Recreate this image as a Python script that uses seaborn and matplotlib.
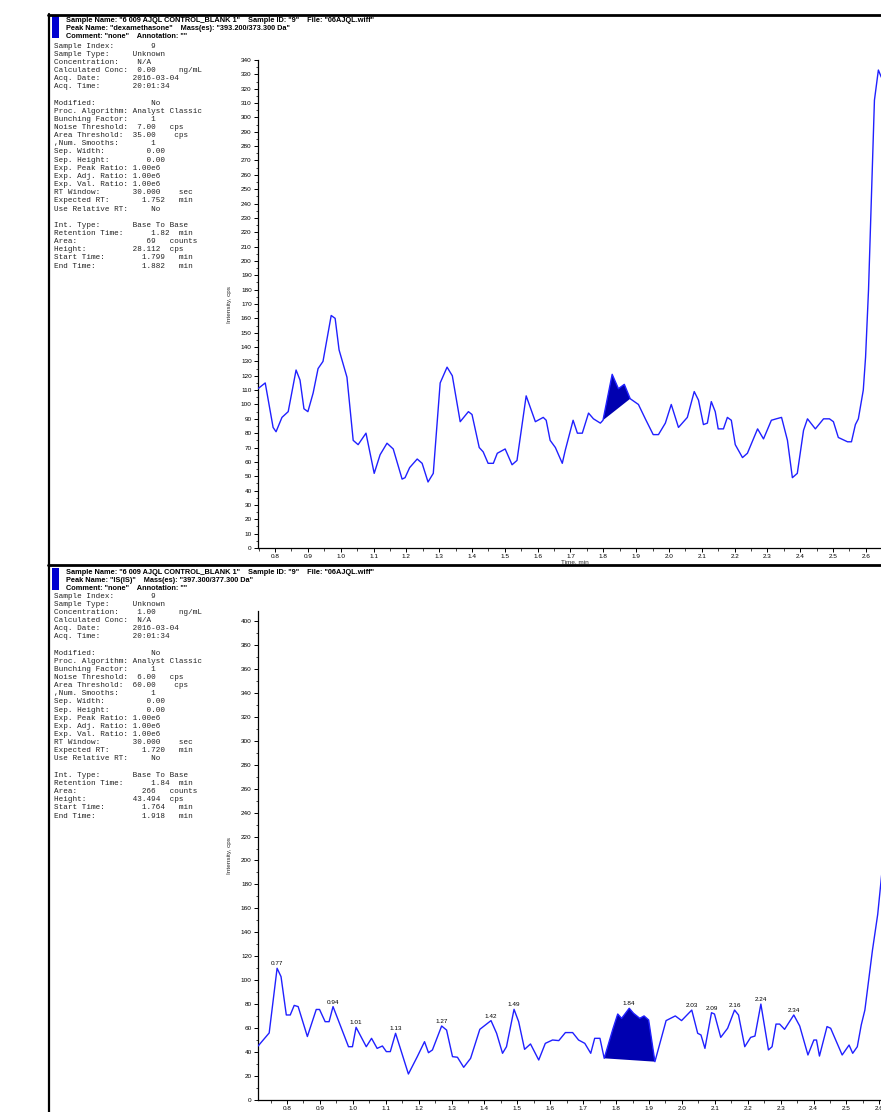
import numpy as np
import matplotlib
matplotlib.use("Agg")
import matplotlib.pyplot as plt
import seaborn as sns
from matplotlib.lines import Line2D
from matplotlib.patches import Rectangle
from matplotlib.ticker import MultipleLocator, FormatStrFormatter

# ---------------- data: top panel (dexamethasone) ----------------
top_time = [0.748, 0.770, 0.794, 0.803, 0.821, 0.840, 0.864, 0.876, 0.888, 0.900,
            0.916, 0.931, 0.946, 0.971, 0.983, 0.995, 1.019, 1.038, 1.053, 1.077,
            1.102, 1.120, 1.141, 1.160, 1.187, 1.196, 1.210, 1.233, 1.248, 1.266,
            1.282, 1.303, 1.324, 1.340, 1.364, 1.389, 1.400, 1.422, 1.434, 1.449,
            1.465, 1.477, 1.501, 1.522, 1.537, 1.565, 1.593, 1.617, 1.626, 1.638,
            1.654, 1.675, 1.684, 1.708, 1.721, 1.736, 1.755, 1.770, 1.791, 1.799,
            1.827, 1.846, 1.864, 1.882, 1.907, 1.928, 1.952, 1.968, 1.989, 2.007,
            2.029, 2.056, 2.077, 2.090, 2.105, 2.117, 2.129, 2.141, 2.150, 2.166,
            2.178, 2.190, 2.202, 2.224, 2.239, 2.270, 2.288, 2.312, 2.327, 2.343,
            2.361, 2.376, 2.391, 2.410, 2.422, 2.446, 2.471, 2.489, 2.501, 2.516,
            2.544, 2.556, 2.568, 2.577, 2.592, 2.599, 2.608, 2.626, 2.638, 2.647]
top_intensity = [111, 115, 84, 81, 91, 95, 124, 117, 97, 95,
                 108, 125, 130, 162, 160, 138, 119, 75, 72, 80,
                 52, 65, 73, 69, 48, 49, 56, 62, 59, 46,
                 52, 115, 126, 120, 88, 95, 93, 70, 67, 59,
                 59, 66, 69, 58, 61, 106, 88, 91, 89, 75,
                 70, 59, 68, 89, 80, 80, 94, 90, 87, 89,
                 121, 111, 114, 104, 100, 90, 79, 79, 87, 100,
                 84, 91, 109, 103, 86, 87, 102, 95, 83, 83,
                 91, 89, 72, 63, 66, 83, 76, 89, 90, 91,
                 75, 49, 52, 82, 90, 83, 90, 90, 88, 77,
                 74, 74, 86, 90, 110, 133, 180, 312, 333, 328]
top_peak_start, top_peak_end = 1.799, 1.882

# ---------------- data: bottom panel (IS) ----------------
bot_time = [0.712, 0.746, 0.770, 0.782, 0.798, 0.810, 0.822, 0.834, 0.862, 0.889,
            0.899, 0.916, 0.928, 0.940, 0.987, 0.999, 1.010, 1.041, 1.057, 1.074,
            1.090, 1.102, 1.114, 1.130, 1.169, 1.196, 1.218, 1.230, 1.242, 1.270,
            1.285, 1.303, 1.318, 1.337, 1.358, 1.386, 1.420, 1.437, 1.455, 1.467,
            1.490, 1.504, 1.522, 1.540, 1.565, 1.585, 1.607, 1.626, 1.646, 1.668,
            1.686, 1.705, 1.723, 1.735, 1.751, 1.764, 1.790, 1.805, 1.817, 1.840,
            1.853, 1.872, 1.885, 1.899, 1.918, 1.952, 1.980, 1.999, 2.030, 2.048,
            2.058, 2.070, 2.090, 2.099, 2.118, 2.139, 2.160, 2.172, 2.191, 2.209,
            2.222, 2.240, 2.263, 2.274, 2.286, 2.297, 2.312, 2.340, 2.358, 2.383,
            2.401, 2.409, 2.418, 2.441, 2.452, 2.487, 2.508, 2.519, 2.533, 2.545,
            2.556, 2.579, 2.595, 2.607]
bot_intensity = [45, 56, 110, 103, 71, 71, 79, 78, 53, 75.6,
                 75.6, 65.4, 65.4, 78, 44.5, 44.5, 60.7, 44.5, 51.5, 43.1,
                 45.1, 40.4, 40.4, 55.7, 21.7, 36.2, 48.7, 39.5, 41.8, 61.8,
                 58.4, 36.2, 35.7, 27.3, 34.8, 59, 66.3, 55.7, 39, 44.5,
                 75.7, 65.4, 42.3, 46.8, 33.4, 47.3, 50.1, 49.6, 56.3, 56.3,
                 50.1, 47.3, 39, 51.5, 51.5, 34.8, 59, 71.8, 68.2, 76.6,
                 72.4, 68.2, 70.2, 66.8, 32, 66.3, 70.2, 66.3, 75.1, 55.7,
                 54.3, 43.1, 72.9, 71.8, 52.3, 59.9, 75.1, 71, 44.5, 52.3,
                 53.4, 80.1, 41.8, 44.5, 63.4, 63.4, 59, 71, 61.8, 37.6,
                 50.1, 50.1, 36.7, 61.3, 59.9, 37.6, 45.9, 39, 44.5, 62.7,
                 75.1, 125, 155, 188]
bot_peak_start, bot_peak_end = 1.764, 1.918
bot_peak_labels = ["0.77", "0.94", "1.01", "1.13", "1.27", "1.42", "1.49", "1.84",
                   "2.03", "2.09", "2.16", "2.24", "2.34"]

# ---------------- text ----------------
top_header = ['Sample Name: "6 009 AJQL CONTROL_BLANK 1"    Sample ID: "9"    File: "06AJQL.wiff"',
              'Peak Name: "dexamethasone"    Mass(es): "393.200/373.300 Da"',
              'Comment: "none"    Annotation: ""']
bot_header = ['Sample Name: "6 009 AJQL CONTROL_BLANK 1"    Sample ID: "9"    File: "06AJQL.wiff"',
              'Peak Name: "IS(IS)"    Mass(es): "397.300/377.300 Da"',
              'Comment: "none"    Annotation: ""']

top_info = ["Sample Index:        9",
            "Sample Type:     Unknown",
            "Concentration:    N/A",
            "Calculated Conc:  0.00     ng/mL",
            "Acq. Date:       2016-03-04",
            "Acq. Time:       20:01:34",
            "",
            "Modified:            No",
            "Proc. Algorithm: Analyst Classic",
            "Bunching Factor:     1",
            "Noise Threshold:  7.00   cps",
            "Area Threshold:  35.00    cps",
            ",Num. Smooths:       1",
            "Sep. Width:         0.00",
            "Sep. Height:        0.00",
            "Exp. Peak Ratio: 1.00e6",
            "Exp. Adj. Ratio: 1.00e6",
            "Exp. Val. Ratio: 1.00e6",
            "RT Window:       30.000    sec",
            "Expected RT:       1.752   min",
            "Use Relative RT:     No",
            "",
            "Int. Type:       Base To Base",
            "Retention Time:      1.82  min",
            "Area:               69   counts",
            "Height:          28.112  cps",
            "Start Time:        1.799   min",
            "End Time:          1.882   min"]

bot_info = ["Sample Index:        9",
            "Sample Type:     Unknown",
            "Concentration:    1.00     ng/mL",
            "Calculated Conc:  N/A",
            "Acq. Date:       2016-03-04",
            "Acq. Time:       20:01:34",
            "",
            "Modified:            No",
            "Proc. Algorithm: Analyst Classic",
            "Bunching Factor:     1",
            "Noise Threshold:  6.00   cps",
            "Area Threshold:  60.00    cps",
            ",Num. Smooths:       1",
            "Sep. Width:         0.00",
            "Sep. Height:        0.00",
            "Exp. Peak Ratio: 1.00e6",
            "Exp. Adj. Ratio: 1.00e6",
            "Exp. Val. Ratio: 1.00e6",
            "RT Window:       30.000    sec",
            "Expected RT:       1.720   min",
            "Use Relative RT:     No",
            "",
            "Int. Type:       Base To Base",
            "Retention Time:      1.84  min",
            "Area:              266   counts",
            "Height:          43.494  cps",
            "Start Time:        1.764   min",
            "End Time:          1.918   min"]

# ---------------- figure ----------------
W, H = 881, 1112
sns.set_style("ticks")
plt.rcParams['font.family'] = ['Liberation Sans', 'DejaVu Sans']

fig = plt.figure(figsize=(W / 100, H / 100), dpi=100)


def fx(x):
    return x / W


def fy(y):
    return 1 - y / H


LINE = '#2020ff'
FILL = '#0000b0'

# frame
fig.add_artist(Line2D([fx(48), fx(881)], [fy(15), fy(15)], color='black', lw=2.0))
fig.add_artist(Line2D([fx(48), fx(881)], [fy(565), fy(565)], color='black', lw=2.0))
fig.add_artist(Line2D([fx(49), fx(49)], [fy(14), fy(1112)], color='black', lw=1.6))


def header(y0, lines):
    fig.add_artist(Rectangle((fx(52), fy(y0 + 22)), 7 / W, 22 / H, transform=fig.transFigure,
                             facecolor='#0000d0', edgecolor='none'))
    for i, s in enumerate(lines):
        fig.text(fx(66), fy(y0 + 4 + i * 8), s, fontsize=5.3, va='center', ha='left',
                 color='black', fontweight='bold')


def info(y0, lines):
    for i, s in enumerate(lines):
        fig.text(fx(54), fy(y0 + i * 8.15), s, fontsize=5.5, va='center', ha='left',
                 family='Liberation Mono', color='#222222')


header(16, top_header)
header(568, bot_header)
info(46, top_info)
info(596, bot_info)


def panel(ax, t, I, pstart, pend, xlim, ylim, ymaj, ymin):
    t = np.asarray(t)
    I = np.asarray(I, dtype=float)
    m = (t >= pstart - 1e-9) & (t <= pend + 1e-9)
    ax.fill(t[m], I[m], color=FILL, lw=0, zorder=2)
    sns.lineplot(x=t, y=I, ax=ax, color=LINE, lw=1.0, estimator=None, zorder=3)
    for ln in ax.lines:
        ln.set_solid_joinstyle('round')
    ax.set_xlim(*xlim)
    ax.set_ylim(*ylim)
    ax.xaxis.set_major_locator(MultipleLocator(0.1))
    ax.xaxis.set_minor_locator(MultipleLocator(0.05))
    ax.xaxis.set_major_formatter(FormatStrFormatter('%.1f'))
    ax.yaxis.set_major_locator(MultipleLocator(ymaj))
    ax.yaxis.set_minor_locator(MultipleLocator(ymin))
    for s in ['top', 'right']:
        ax.spines[s].set_visible(False)
    for s in ['left', 'bottom']:
        ax.spines[s].set_linewidth(0.9)
        ax.spines[s].set_color('black')
    ax.tick_params(which='major', length=3, width=0.7, labelsize=4.6, pad=1.5, colors='black')
    ax.tick_params(which='minor', length=1.8, width=0.6)
    ax.set_xlabel('')
    ax.set_ylabel('Intensity, cps', fontsize=4.6)
    ax.yaxis.set_label_coords(-0.042, 0.5)
    ax.patch.set_alpha(0)


ax1 = fig.add_axes([fx(258), fy(548), 1 - fx(258), (548 - 60) / H])
panel(ax1, top_time, top_intensity, top_peak_start, top_peak_end,
      (0.748, 2.646), (0, 340), 10, 5)
ax1.set_xlabel('Time, min', fontsize=4.6)
ax1.xaxis.set_label_coords(0.509, -0.024)

ax2 = fig.add_axes([fx(258), fy(1100), 1 - fx(258), (1100 - 611.4) / H])
panel(ax2, bot_time, bot_intensity, bot_peak_start, bot_peak_end,
      (0.712, 2.605), (0, 408), 20, 10)

bt = np.asarray(bot_time)
bi = np.asarray(bot_intensity)
for lab in bot_peak_labels:
    k = int(np.argmin(np.abs(bt - float(lab))))
    ax2.annotate(lab, (bt[k], bi[k]), xytext=(0, 1.5), textcoords='offset points',
                 ha='center', va='bottom', fontsize=4.6, color='black')

fig.savefig('out.png', dpi=100)
